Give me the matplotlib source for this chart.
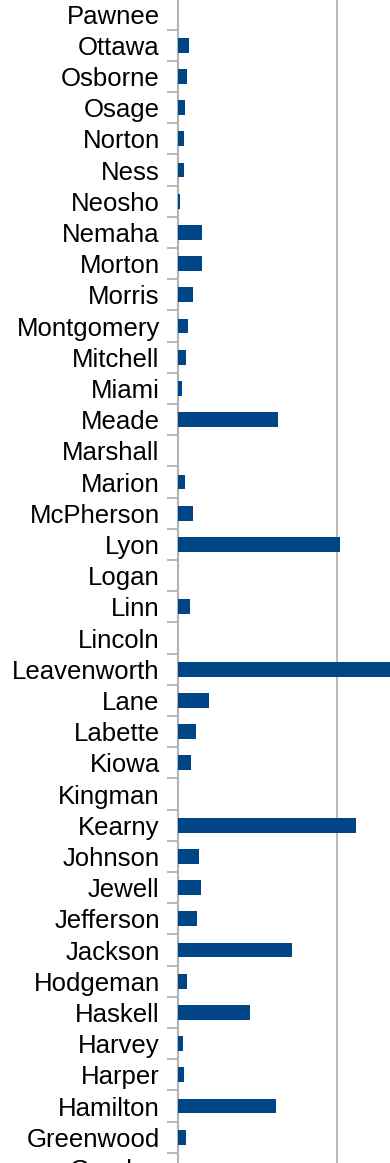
import matplotlib
matplotlib.use("Agg")
import matplotlib.pyplot as plt
import numpy as np

counties = ["Pawnee", "Ottawa", "Osborne", "Osage", "Norton", "Ness", "Neosho",
            "Nemaha", "Morton", "Morris", "Montgomery", "Mitchell", "Miami",
            "Meade", "Marshall", "Marion", "McPherson", "Lyon", "Logan", "Linn",
            "Lincoln", "Leavenworth", "Lane", "Labette", "Kiowa", "Kingman",
            "Kearny", "Johnson", "Jewell", "Jefferson", "Jackson", "Hodgeman",
            "Haskell", "Harvey", "Harper", "Hamilton", "Greenwood", "Greeley"]
values = [0, 7.1, 5.6, 4.6, 3.9, 3.9, 1.4,
          15.2, 15.2, 9.6, 6.5, 5.2, 2.7,
          62.9, 0, 4.6, 9.6, 101.8, 0, 7.7,
          0, 140, 19.6, 11.5, 8.3, 0,
          111.8, 13.4, 14.6, 12.1, 71.7, 5.8,
          45.3, 3.3, 3.9, 61.6, 5.2, 0]
grid_ticks = [100]

W, H = 390, 1163
fig = plt.figure(figsize=(W / 100, H / 100), dpi=100)
left_px = 177.7
ext = 25  # axes extend beyond the figure (the original is a crop)
ax = fig.add_axes([left_px / W, -ext / H, 1 - left_px / W, (H + 2 * ext) / H])

y = np.arange(len(counties))
ax.barh(y, values, height=0.48, color="#004586", zorder=3)

ax.set_yticks(y)
ax.set_yticklabels(counties, fontsize=18.5, family=["Liberation Sans", "DejaVu Sans"], color="#000000")
ax.tick_params(axis="y", which="major", length=0, pad=13)
ax.set_yticks(np.arange(-0.5, len(counties) + 0.5, 1), minor=True)
ax.tick_params(axis="y", which="minor", length=8, width=1.3, color="#b3b3b3", direction="out")

ax.set_xticks(grid_ticks)
ax.set_xticklabels([])
ax.tick_params(axis="x", length=0)
ax.grid(axis="x", color="#b3b3b3", linewidth=1.3, zorder=0)

px_per_unit = 1.595
ax.set_xlim(0, (W - left_px) / px_per_unit)
step = 31.2
top_center = 14.0
ax.set_ylim((H + ext - top_center) / step, (-ext - top_center) / step)

for s in ["top", "right", "bottom"]:
    ax.spines[s].set_visible(False)
ax.spines["left"].set_color("#b3b3b3")
ax.spines["left"].set_linewidth(1.5)
ax.spines["left"].set_zorder(2)

fig.savefig("out.png", dpi=100)
